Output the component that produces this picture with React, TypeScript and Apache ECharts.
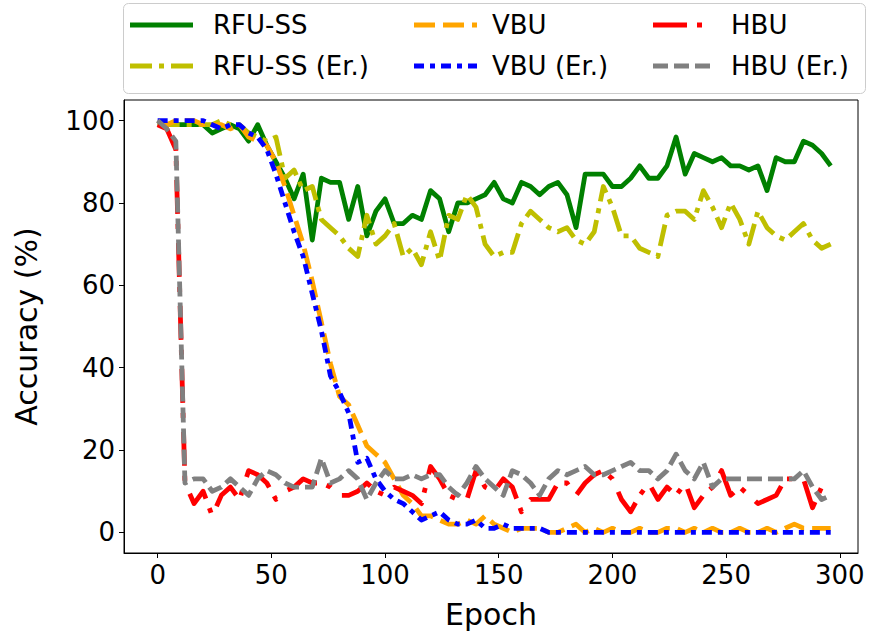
import React, { useEffect, useRef } from "react";
import * as echarts from "echarts";

const epochs = Array.from({ length: 75 }, (_, i) => i * 4);

const rfuSS = [
  99, 99, 99, 99, 99, 99, 97, 98, 99, 98,
  95, 99, 94, 90, 86, 81, 87, 71, 86, 85,
  85, 76, 84, 72, 78, 81, 75, 75, 77, 76,
  83, 81, 73, 80, 80, 81, 82, 85, 81, 80,
  85, 84, 82, 84, 85, 82, 74, 87, 87, 87,
  84, 84, 86, 89, 86, 86, 89, 96, 87, 92,
  91, 90, 91, 89, 89, 88, 89, 83, 91, 90,
  90, 95, 94, 92, 89,
];

const rfuSSEr = [
  99, 99, 99, 99, 99, 99, 99, 100, 99, 99,
  97, 96, 95, 96, 86, 88, 83, 84, 76, 74,
  72, 69, 67, 77, 70, 72, 75, 67, 69, 65,
  73, 66, 77, 76, 82, 79, 70, 67, 68, 68,
  75, 78, 76, 74, 73, 74, 71, 70, 73, 84,
  79, 72, 72, 69, 68, 67, 77, 78, 78, 76,
  83, 79, 74, 80, 76, 70, 78, 74, 72, 71,
  73, 75, 71, 69, 70,
];

const vbu = [
  100, 99, 100, 100, 100, 99, 99, 99, 98, 99,
  96, 95, 94, 90, 84, 77, 70, 61, 51, 41,
  33, 31, 26, 21, 19, 17, 13, 9, 7, 4,
  4, 3, 2, 2, 3, 2, 4, 2, 1, 0,
  1, 1, 1, 0, 0, 1, 2, 0, 1, 0,
  1, 0, 0, 1, 0, 0, 1, 1, 0, 1,
  0, 1, 0, 0, 1, 0, 0, 1, 0, 1,
  2, 1, 1, 1, 1,
];

const vbuEr = [
  100, 100, 100, 100, 100, 100, 99, 98, 99, 99,
  97, 96, 93, 87, 80, 73, 67, 58, 49, 38,
  34, 29, 17, 18, 13, 10, 8, 7, 5, 3,
  4, 5, 3, 2, 2, 3, 1, 1, 2, 1,
  1, 1, 1, 0, 0, 0, 0, 0, 0, 0,
  0, 0, 0, 0, 0, 0, 0, 0, 0, 0,
  0, 0, 0, 0, 0, 0, 0, 0, 0, 0,
  0, 0, 0, 0, 0,
];

const hbu = [
  99, 98, 93, 12, 7, 10, 4, 9, 11, 8,
  15, 14, 12, 8, 10, 11, 13, 12, 12, 11,
  9, 9, 10, 12, 10, 9, 11, 10, 9, 7,
  16, 13, 9, 8, 8, 15, 11, 10, 13, 11,
  5, 8, 8, 8, 12, 12, 9, 12, 14, 15,
  13, 8, 5, 9, 12, 8, 11, 9, 12, 6,
  9, 11, 15, 9, 11, 9, 7, 8, 9, 13,
  13, 13, 6, 11, 11,
];

const hbuEr = [
  100, 98, 95, 12, 13, 13, 10, 11, 13, 11,
  9, 13, 15, 14, 12, 11, 11, 11, 18, 12,
  13, 15, 13, 8, 12, 15, 13, 13, 14, 13,
  14, 14, 11, 9, 12, 16, 13, 11, 9, 15,
  14, 12, 9, 13, 15, 14, 15, 16, 14, 14,
  15, 16, 17, 15, 15, 13, 15, 19, 15, 13,
  17, 11, 13, 13, 13, 13, 13, 13, 13, 13,
  13, 15, 11, 8, 9,
];

const xTicks = [0, 50, 100, 150, 200, 250, 300];
const yTicks = [0, 20, 40, 60, 80, 100];

const seriesNames = ["RFU-SS", "RFU-SS (Er.)", "VBU", "VBU (Er.)", "HBU", "HBU (Er.)"];
const seriesValues = [rfuSS, rfuSSEr, vbu, vbuEr, hbu, hbuEr];
const seriesColors = ["#008000", "#bfbf00", "#ffa500", "#0000ff", "#ff0000", "#808080"];
const seriesDash: (string | number[])[] = [
  "solid",
  [22, 7, 5, 7],
  [21, 8],
  [10, 6, 5, 6],
  [34, 10, 5, 14],
  [15, 6],
];

const FONT = "DejaVu Sans";
const LW = 4.8;

export default function App() {
  const ref = useRef<HTMLDivElement>(null);

  useEffect(() => {
    if (!ref.current) return;
    const chart = echarts.init(ref.current, null, { renderer: "svg" });

    const series = seriesNames.map((name, k) => ({
      name,
      type: "line",
      data: epochs.map((e, i) => [e, seriesValues[k][i]]),
      symbol: "none",
      showSymbol: false,
      z: 2 + k,
      lineStyle: {
        color: seriesColors[k],
        width: LW,
        type: seriesDash[k],
        cap: "butt",
        join: "round",
      },
      itemStyle: { color: seriesColors[k] },
    }));

    // Legend (column-major, 3 columns x 2 rows) drawn as graphics
    const colSample = [130, 414, 653];
    const colText = [213, 492, 731];
    const rowY = [25, 66];
    const legendEls: any[] = [
      {
        type: "rect",
        shape: { x: 123.5, y: 3.5, width: 742, height: 90, r: 5 },
        style: { fill: "#ffffff", stroke: "#cccccc", lineWidth: 1 },
        z: 100,
      },
    ];
    seriesNames.forEach((name, k) => {
      const col = Math.floor(k / 2);
      const row = k % 2;
      const dash = seriesDash[k];
      legendEls.push({
        type: "line",
        shape: { x1: colSample[col], y1: rowY[row], x2: colSample[col] + 63, y2: rowY[row] },
        style: {
          stroke: seriesColors[k],
          lineWidth: LW,
          lineDash: Array.isArray(dash) ? dash : null,
        },
        z: 101,
      });
      legendEls.push({
        type: "text",
        x: colText[col],
        y: rowY[row],
        style: {
          text: name,
          fill: "#000000",
          font: `26px ${FONT}`,
          verticalAlign: "middle",
          textAlign: "left",
        },
        z: 101,
      });
    });

    chart.setOption({
      animation: false,
      backgroundColor: "#ffffff",
      textStyle: { fontFamily: FONT },
      grid: {
        left: 124,
        right: 15,
        top: 100,
        bottom: 84,
        show: true,
        borderColor: "#000000",
        borderWidth: 1,
        backgroundColor: "transparent",
      },
      xAxis: {
        type: "value",
        min: -14.8,
        max: 308,
        name: "Epoch",
        nameLocation: "middle",
        nameGap: 46,
        nameTextStyle: { fontSize: 30, color: "#000", fontFamily: FONT },
        axisLine: { show: true, onZero: false, lineStyle: { color: "#000", width: 1 } },
        axisTick: { show: true, inside: false, length: 5, customValues: xTicks, lineStyle: { color: "#000" } },
        axisLabel: { customValues: xTicks, fontSize: 26, color: "#000", margin: 9, fontFamily: FONT },
        splitLine: { show: false },
      },
      yAxis: {
        type: "value",
        min: -5,
        max: 105,
        name: "Accuracy (%)",
        nameLocation: "middle",
        nameGap: 83,
        nameTextStyle: { fontSize: 30, color: "#000", fontFamily: FONT },
        axisLine: { show: true, onZero: false, lineStyle: { color: "#000", width: 1 } },
        axisTick: { show: true, inside: false, length: 5, customValues: yTicks, lineStyle: { color: "#000" } },
        axisLabel: { customValues: yTicks, fontSize: 26, color: "#000", margin: 9, fontFamily: FONT },
        splitLine: { show: false },
      },
      series,
      graphic: legendEls,
    });

    return () => chart.dispose();
  }, []);

  return (
    <div
      ref={ref}
      style={{ position: "absolute", left: 0, top: 0, width: 873, height: 637, background: "#ffffff" }}
    />
  );
}
